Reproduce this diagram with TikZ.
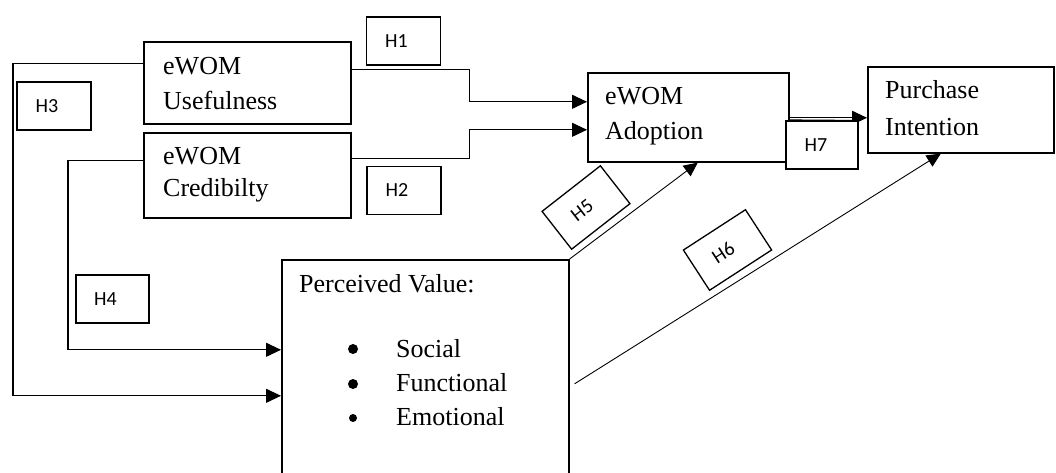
\documentclass[tikz,border=0pt]{standalone}
\usepackage{fontspec}
\setmainfont{Liberation Serif}
\newfontfamily\hfont{Carlito}
\usetikzlibrary{arrows.meta}

\begin{document}
\begin{tikzpicture}[x=1pt,y=-1pt,
  box/.style={draw, line width=1.6pt, inner sep=0pt, anchor=north west},
  lbl/.style={anchor=north west, inner sep=0pt, align=left, font=\fontsize{26}{35}\selectfont},
  hbox/.style={draw, fill=white, line width=1.3pt, minimum height=48pt, minimum width=74pt,
               inner xsep=0pt, inner ysep=0pt, font=\hfont\fontsize{20}{24}\selectfont},
  conn/.style={line width=1.1pt, -{Triangle[length=15pt,width=14pt]}},
  thinconn/.style={line width=0.9pt, -{Triangle[length=14pt,width=13pt]}},
  plain/.style={line width=0.8pt}]

\useasboundingbox (0,0) rectangle (1056,472);
\clip (0,0) rectangle (1056,472);

% construct boxes
\node[box, minimum width=207pt, minimum height=82pt] (use) at (143,41) {};
\node[box, minimum width=207pt, minimum height=85pt] (cred) at (143,132) {};
\node[box, minimum width=201pt, minimum height=89pt] (adopt) at (587,72) {};
\node[box, minimum width=186pt, minimum height=86pt] (purch) at (867,66) {};
\node[box, minimum width=287pt, minimum height=231pt] (pv) at (281,259) {};

% box texts
\node[lbl] (usetxt) at (163,57.5) {eWOM\\Usefulness};
\node[lbl, font=\fontsize{26}{32}\selectfont] (credtxt) at (163,147.5) {eWOM\\Credibilty};
\node[lbl] (adopttxt) at (605,87.5) {eWOM\\Adoption};
\node[lbl, font=\fontsize{26}{37}\selectfont] (purchtxt) at (885,80.5) {Purchase\\Intention};
\node[lbl] (pvtitle) at (299,274.5) {Perceived Value:};
\node[lbl, font=\fontsize{26}{34}\selectfont] (pvlist) at (396,339.5) {Social\\Functional\\Emotional};

% list bullets
\fill (353,349) circle (5pt);
\fill (353,384) circle (5pt);
\fill (353,418) circle (4pt);

% hypothesis connectors
\draw[conn] ([yshift=19pt]use.west) -- ++(-130,0) |- ([yshift=-20.5pt]pv.west);
\draw[conn] ([yshift=14.5pt]cred.west) -- ++(-75,0) |- ([yshift=25.5pt]pv.west);
\draw[conn] ([yshift=13pt]use.east) -- ++(118,0) |- ([yshift=15.5pt]adopt.west);
\draw[conn] ([yshift=16.5pt]cred.east) -- ++(118,0) |- ([yshift=-12.5pt]adopt.west);
\draw[plain] ([yshift=-2.5pt]adopt.east) -- ([xshift=-12pt,yshift=-10.5pt]purch.west);
\draw[conn] ([yshift=-0.5pt]adopt.east) -- ([yshift=-8pt]purch.west);
\draw[thinconn] (pv.north east) -- ([xshift=9.5pt]adopt.south);
\draw[thinconn] ([xshift=5pt,yshift=-8.5pt]pv.east) -- ([xshift=-20pt]purch.south);

% hypothesis labels (text sits left of centre inside each frame)
\node[hbox] (h1) at (403.5,41) {\hspace*{-14pt}H1};
\node[hbox] (h2) at (404,190.5) {\hspace*{-14pt}H2};
\node[hbox] (h3) at (54,106) {\hspace*{-14pt}H3};
\node[hbox, minimum width=73pt] (h4) at (112.5,299) {\hspace*{-14pt}H4};
\node[hbox, minimum width=72pt] (h7) at (822,145) {\hspace*{-12pt}H7};
\node[hbox, rotate=38] (h5) at (586,207.5) {\hspace*{-10pt}H5};
\node[hbox, rotate=33] (h6) at (727.5,250) {\hspace*{-10pt}H6};
\end{tikzpicture}
\end{document}
